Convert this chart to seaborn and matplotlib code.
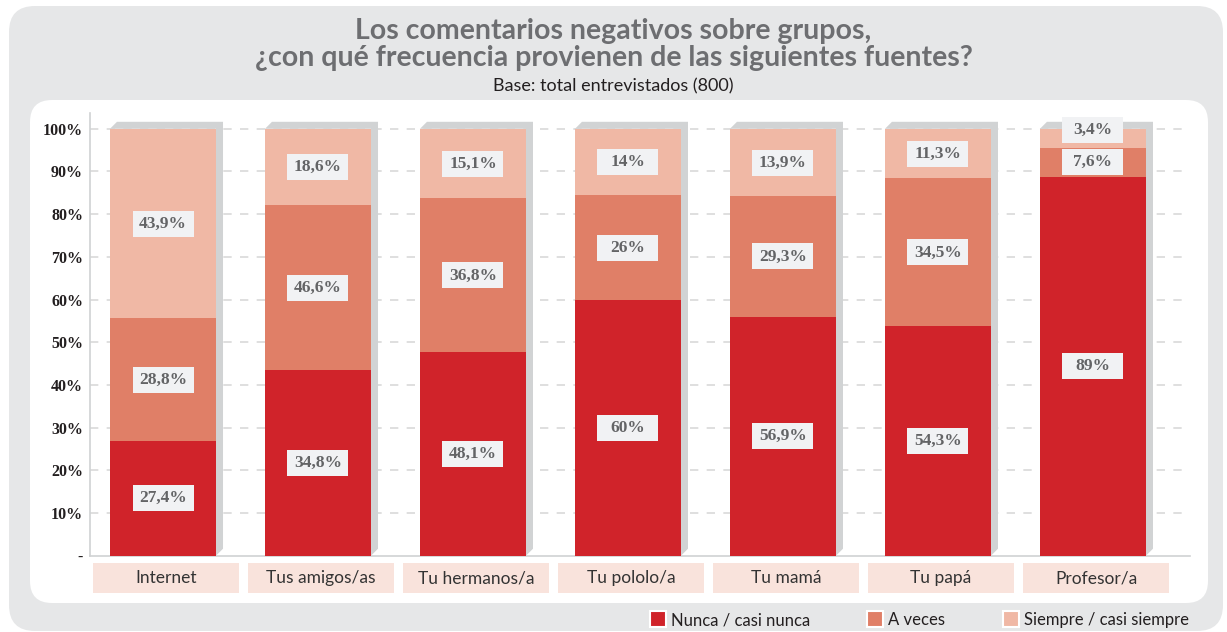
import matplotlib
matplotlib.use("Agg")
import matplotlib.pyplot as plt
import matplotlib.patches as mpatches
import matplotlib.transforms as mtransforms
import numpy as np
import pandas as pd
import seaborn as sns

# ---------------- data ----------------
categories = ["Internet", "Tus amigos/as", "Tu hermanos/a", "Tu pololo/a",
              "Tu mamá", "Tu papá", "Profesor/a"]
series_names = ["Nunca / casi nunca", "A veces", "Siempre / casi siempre"]
# segment heights as drawn in the picture (%)
nunca = [26.9, 43.4, 47.6, 59.8, 56.0, 53.7, 88.8]
a_veces = [28.7, 38.7, 36.1, 24.6, 28.2, 34.7, 6.8]
siempre = [44.4, 17.9, 16.3, 15.6, 15.8, 11.6, 4.4]
# printed value labels
lbl_nunca = ["27,4%", "34,8%", "48,1%", "60%", "56,9%", "54,3%", "89%"]
lbl_a_veces = ["28,8%", "46,6%", "36,8%", "26%", "29,3%", "34,5%", "7,6%"]
lbl_siempre = ["43,9%", "18,6%", "15,1%", "14%", "13,9%", "11,3%", "3,4%"]
yticks = [0, 10, 20, 30, 40, 50, 60, 70, 80, 90, 100]
ytick_labels = ["-", "10%", "20%", "30%", "40%", "50%", "60%", "70%", "80%", "90%", "100%"]

title1 = "Los comentarios negativos sobre grupos,"
title2 = "¿con qué frecuencia provienen de las siguientes fuentes?"
subtitle = "Base: total entrevistados (800)"

# ---------------- style ----------------
colors = ["#d0232a", "#e07f67", "#f0b8a5"]
SANS = ["Lato", "DejaVu Sans"]
SERIF = ["Liberation Serif", "DejaVu Serif"]
BG = "#e6e7e8"

sns.set_style("white")
plt.rcParams["font.family"] = SANS

W, H = 1227, 632
fig = plt.figure(figsize=(W / 100, H / 100), dpi=100)
fig.patch.set_facecolor("white")

# outer gray rounded panel and inner white panel (pixel coords)
def px_box(x0, y0_top, x1, y1_top, fc, r):
    p = mpatches.FancyBboxPatch((x0 + r, H - y1_top + r), (x1 - x0) - 2 * r, (y1_top - y0_top) - 2 * r,
                                boxstyle=f"round,pad={r}", fc=fc, ec="none",
                                transform=mtransforms.IdentityTransform(), zorder=-10)
    fig.patches.append(p)

px_box(9, 6, 1223, 631, BG, 26)
px_box(30, 100, 1208, 603, "white", 22)

# axes placement (pixels)
ax_left, ax_right, ax_top, ax_bottom = 90, 1190, 113, 555.7
ax = fig.add_axes([ax_left / W, 1 - ax_bottom / H, (ax_right - ax_left) / W, (ax_bottom - ax_top) / H])
ax.set_facecolor("none")

df = pd.DataFrame({"cat": categories, "nunca": nunca, "a_veces": a_veces, "siempre": siempre})
df["c2"] = df["nunca"] + df["a_veces"]
df["c3"] = df["c2"] + df["siempre"]

bar_w = 0.684
for col, c in zip(["c3", "c2", "nunca"], colors[::-1]):
    sns.barplot(data=df, x="cat", y=col, color=c, width=bar_w, saturation=1,
                ax=ax, zorder=3, linewidth=0, order=categories)

ax.set_xlim(-0.471, 6.626)
ax.set_ylim(0, 103.7)

# 3D side/top shadow derived from each bar
px_x = (ax_right - ax_left) / (6.626 + 0.471)
px_y = (ax_bottom - ax_top) / 103.7
dx, dy = 7 / px_x, 7 / px_y
for i, tot in enumerate(df["c3"]):
    x0, x1 = i - bar_w / 2, i + bar_w / 2
    poly = mpatches.Polygon([(x0, tot), (x0 + dx, tot + dy), (x1 + dx, tot + dy),
                             (x1 + dx, dy), (x1, 0), (x1, tot)],
                            closed=True, fc="#d1d3d4", ec="none", zorder=2)
    ax.add_patch(poly)

# grid
for yv in yticks[1:]:
    ax.axhline(yv, color="#d9d9d9", lw=1.2, ls=(0, (5, 5)), zorder=1)

# spines
for s in ["top", "right"]:
    ax.spines[s].set_visible(False)
ax.spines["left"].set_color("#d0d2d3")
ax.spines["bottom"].set_color("#d0d2d3")
ax.spines["left"].set_linewidth(1.2)
ax.spines["bottom"].set_linewidth(1.2)

ax.set_yticks(yticks)
ax.set_yticklabels(ytick_labels, fontfamily=SERIF, fontweight="bold", fontsize=11.5, color="#231f20")
ax.tick_params(axis="y", length=0, pad=5)
ax.set_xticks([])
ax.set_xlabel("")
ax.set_ylabel("")

# value labels with fixed-size light boxes
box_w = 61 / px_x
box_h = 26 / px_y
for i in range(len(categories)):
    bottoms = [0, nunca[i], nunca[i] + a_veces[i]]
    heights = [nunca[i], a_veces[i], siempre[i]]
    labels = [lbl_nunca[i], lbl_a_veces[i], lbl_siempre[i]]
    prev = -100
    for b, h, t in zip(bottoms, heights, labels):
        yc = b + h / 2
        if yc - prev < 7.5:
            yc = prev + 7.5
        prev = yc
        ax.add_patch(mpatches.Rectangle((i - box_w / 2, yc - box_h / 2), box_w, box_h,
                                        fc="#f1f2f4", ec="none", zorder=5, clip_on=False))
        ax.text(i, yc, t, ha="center", va="center", fontfamily=SERIF, fontweight="bold",
                fontsize=12.5, color="#636466", zorder=6)

# category label boxes below the axis
trans = mtransforms.blended_transform_factory(ax.transData, ax.transAxes)
cat_w = 146 / px_x
ah = ax_bottom - ax_top
for i, c in enumerate(categories):
    y0 = -(593 - ax_bottom) / ah
    hh = 30 / ah
    ax.add_patch(mpatches.Rectangle((i + 0.02 - cat_w / 2, y0), cat_w, hh, transform=trans,
                                    fc="#f9e3dc", ec="none", clip_on=False, zorder=1))
    ax.text(i + 0.02, y0 + hh / 2, c, transform=trans, ha="center", va="center",
            fontsize=12.5, color="#333333", fontfamily=SANS)

# titles
fig.text(0.5, 1 - 31 / H, title1, ha="center", va="center", fontsize=20.5, fontweight="bold",
         color="#6d6e71", fontfamily=SANS)
fig.text(0.5, 1 - 58 / H, title2, ha="center", va="center", fontsize=20.5, fontweight="bold",
         color="#6d6e71", fontfamily=SANS)
fig.text(0.5, 1 - 86 / H, subtitle, ha="center", va="center", fontsize=13,
         color="#231f20", fontfamily=SANS)

# legend (manual, along the bottom of the gray frame)
leg_items = [(650, series_names[0], colors[0]), (867, series_names[1], colors[1]),
             (1003, series_names[2], colors[2])]
for x, name, c in leg_items:
    sq = mpatches.Rectangle((x, H - 627), 16, 16, fc=c, ec="white", lw=1.5,
                            transform=mtransforms.IdentityTransform(), zorder=5)
    fig.patches.append(sq)
    fig.text((x + 21) / W, 1 - 620 / H, name, ha="left", va="center", fontsize=12,
             color="#231f20", fontfamily=SANS)

fig.savefig("out.png", dpi=100, facecolor=fig.get_facecolor())
